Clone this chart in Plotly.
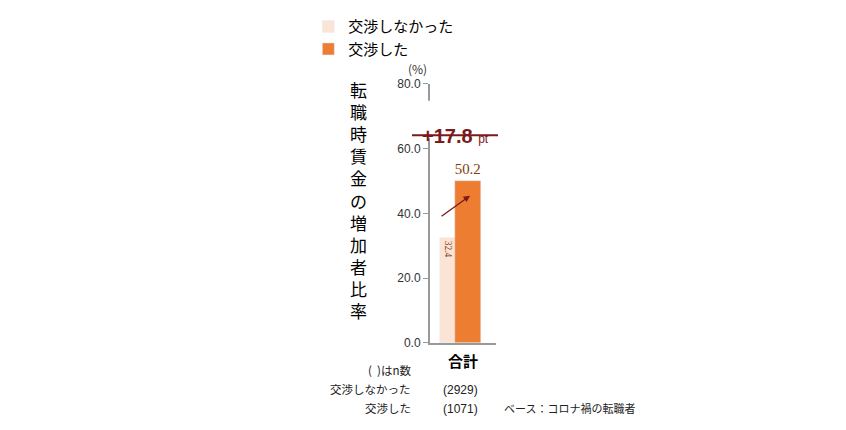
import plotly.graph_objects as go

series = ["交渉しなかった", "交渉した"]
values = [32.4, 50.2]
colors = ["#fbe3d6", "#ed7d31"]
category = "合計"
n_counts = ["(2929)", "(1071)"]
diff_label = "+17.8"

L, R, T, B = 422, 488, 73, 335
def px(x): return (x - L) / (R - L)
def py(y): return (B - y) / (B - T)

fig = go.Figure()
fig.add_bar(x=[0], y=[values[0]], name=series[0], marker_color=colors[0], width=0.242, offset=-0.348,
            text=[f"{values[0]:.1f}"], textposition="inside", insidetextanchor="end",
            textfont=dict(color="#843c0c", size=15, family="Arial Black"), cliponaxis=False)
fig.add_bar(x=[0], y=[values[1]], name=series[1], marker_color=colors[1], width=0.39, offset=-0.12,
            text=[f"{values[1]:.1f}"], textposition="outside",
            textfont=dict(color="#843c0c", size=17, family="Arial Black"), cliponaxis=False)

F = "Noto Sans CJK JP"
fig.update_layout(
    width=846, height=430, plot_bgcolor="white", paper_bgcolor="white",
    margin=dict(l=L, r=846 - R, t=T, b=430 - B), barmode="overlay", bargap=0,
    font=dict(family=F, color="#333"),
    showlegend=True,
    legend=dict(orientation="h", xref="container", yref="container", x=0.355, y=0.995,
                xanchor="left", yanchor="top", font=dict(size=15, color="#000", family=F),
                itemwidth=30, traceorder="normal"),
    xaxis=dict(range=[-0.5, 0.5], showticklabels=False, showline=True, linecolor="#999",
               linewidth=2, fixedrange=True, showgrid=False, zeroline=False),
    yaxis=dict(range=[0, 80], tickvals=[0, 20, 40, 60, 80], ticktext=["0.0", "20.0", "40.0", "60.0", "80.0"],
               showline=True, linecolor="#999", linewidth=2, ticks="outside", ticklen=5, tickcolor="#999",
               showgrid=False, zeroline=False, tickfont=dict(size=12, color="#333", family="Liberation Sans")),
)
ann = []
fig.add_shape(type="rect", xref="paper", yref="paper", x0=px(400), x1=px(492), y0=py(128), y1=py(90),
              fillcolor="white", line=dict(width=0), layer="above")
ann.append(dict(xref="paper", yref="paper", x=px(447), y=py(112),
                text="<b>" + diff_label + "</b> <span style='font-size:12px'>pt</span>",
                showarrow=False, font=dict(size=20, color="#7b1a1a", family="Liberation Sans")))
fig.add_shape(type="line", xref="paper", yref="paper", x0=px(404), x1=px(490), y0=py(125), y1=py(125),
              line=dict(color="#7b1a1a", width=2), layer="above")
ann.append(dict(xref="x", yref="y", axref="x", ayref="y", x=0.106, y=45.5, ax=-0.348, ay=38.8,
                showarrow=True, arrowhead=2, arrowsize=1, arrowwidth=1.3, arrowcolor="#7b1a1a", text=""))
ann.append(dict(xref="paper", yref="paper", x=px(398), y=py(47), text="(%)", showarrow=False,
                font=dict(size=12, color="#333")))
ann.append(dict(xref="paper", yref="paper", x=px(340), y=py(190),
                text="<br>".join("転職時賃金の増加者比率"), showarrow=False,
                font=dict(size=17, color="#000", family=F), align="center"))
ann.append(dict(xref="paper", yref="paper", x=px(455), y=py(365),
                text="<b>" + category + "</b>", showarrow=False, font=dict(size=15, color="#000")))
rows = [("(  )はn数", "", 372), (series[0], n_counts[0], 392), (series[1], n_counts[1], 411)]
for lab, n, yy in rows:
    ann.append(dict(xref="paper", yref="paper", x=px(405), y=py(yy), xanchor="right",
                    text=lab, showarrow=False, font=dict(size=11.5, color="#222")))
    if n:
        ann.append(dict(xref="paper", yref="paper", x=px(452), y=py(yy),
                        text=n, showarrow=False, font=dict(size=12, color="#222", family="Liberation Sans")))
ann.append(dict(xref="paper", yref="paper", x=px(494), y=py(411), xanchor="left",
                text="ベース：コロナ禍の転職者", showarrow=False, font=dict(size=11, color="#222")))
fig.update_layout(annotations=ann)
fig.write_html("out.html")
